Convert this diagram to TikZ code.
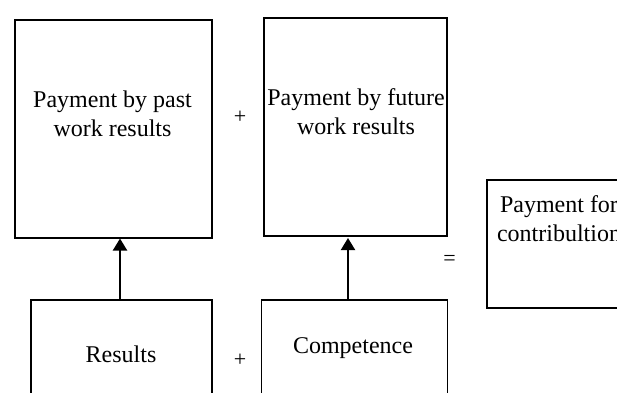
\documentclass[tikz,border=0pt]{standalone}
\usepackage{fontspec}
\setmainfont{Liberation Serif}
\usetikzlibrary{arrows.meta}

\begin{document}
\begin{tikzpicture}[x=1pt, y=-1pt,
    box/.style={rectangle, draw, line width=1.5pt, inner sep=0pt, anchor=north west},
    lbl/.style={font=\fontsize{24}{29}\selectfont, align=center, inner sep=0pt},
    sign/.style={font=\fontsize{22}{26}\selectfont, inner sep=0pt},
    arr/.style={line width=2pt, -{Triangle[width=14pt,length=12pt]}}]
    \useasboundingbox (0,0) rectangle (617,392);
    \clip (0,0) rectangle (617,392);

    % Payments
    \node [box, minimum width=197pt, minimum height=218pt] (past) at (14,19) {};
    \node [box, minimum width=183pt, minimum height=218pt] (future) at (263,17) {};
    \node [box, minimum width=146pt, minimum height=128pt] (contrib) at (486,179) {};

    % Sources
    \node [box, minimum width=181pt, minimum height=120pt] (results) at (30,299) {};
    \node [box, minimum width=186pt, minimum height=120pt] (compet) at (260.5,299) {};

    % Texts
    \node [lbl] (pastlbl) at (112.5,114) {Payment by past\\work results};
    \node [lbl] (futurelbl) at (356,112) {Payment by future\\work results};
    \node [lbl] (contriblbl) at (559,219) {Payment for\\contribultion};
    \node [lbl] (resultslbl) at (121,354) {Results};
    \node [lbl] (competlbl) at (353,348) {Competence};

    % Signs
    \node [sign] (plustop) at (240,117) {+};
    \node [sign] (plusbot) at (240,360) {+};
    \node [sign] (eq) at (449.5,260) {=};

    % Arrows
    \coordinate (resultsup) at (120,299);
    \coordinate (competup) at (348,299);
    \draw [arr] (resultsup) -- (resultsup |- past.south);
    \draw [arr, shorten >=1.5pt] (competup) -- (competup |- future.south);
\end{tikzpicture}
\end{document}
